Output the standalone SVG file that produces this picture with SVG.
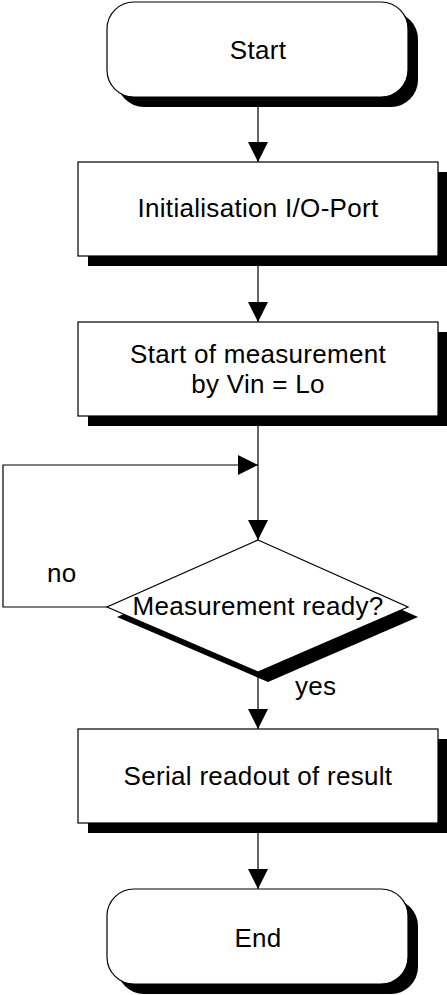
<svg xmlns="http://www.w3.org/2000/svg" width="447" height="995" viewBox="0 0 447 995">
<defs>
<style>
.sh{fill:#000;stroke:none}
.nd{fill:#fff;stroke:#000;stroke-width:1.2}
.t{font-family:"Liberation Sans",Arial,sans-serif;font-size:26px;letter-spacing:0.3px;fill:#000}
.m{text-anchor:middle}
.c{fill:none;stroke:#000;stroke-width:1.2}
</style>
<marker id="ah" markerUnits="userSpaceOnUse" markerWidth="20" markerHeight="20" viewBox="0 0 20 20" refX="20" refY="10" orient="auto">
<path d="M0,0 L20,10 L0,20 Z" fill="#000"/>
</marker>
</defs>
<rect width="447" height="995" fill="#fff"/>
<g id="connectors">
<line class="c" x1="258" y1="97" x2="258" y2="162" marker-end="url(#ah)"/>
<line class="c" x1="258" y1="256" x2="258" y2="322" marker-end="url(#ah)"/>
<line class="c" x1="258" y1="416" x2="258" y2="540" marker-end="url(#ah)"/>
<polyline class="c" points="107,607 3,607 3,465 258,465" marker-end="url(#ah)"/>
<line class="c" x1="258" y1="672" x2="258" y2="729" marker-end="url(#ah)"/>
<line class="c" x1="258" y1="823" x2="258" y2="889" marker-end="url(#ah)"/>
<text class="t" x="47" y="582">no</text>
<text class="t" x="295" y="695">yes</text>
</g>
<g id="start">
<rect class="sh" x="117" y="12" width="301" height="95" rx="27"/>
<rect class="nd" x="107" y="2" width="301" height="95" rx="27"/>
<text class="t m" x="258" y="59">Start</text>
</g>
<g id="init">
<rect class="sh" x="88" y="172" width="360" height="94"/>
<rect class="nd" x="78" y="162" width="360" height="94"/>
<text class="t m" x="258" y="217">Initialisation I/O-Port</text>
</g>
<g id="startmeas">
<rect class="sh" x="88" y="332" width="360" height="94"/>
<rect class="nd" x="78" y="322" width="360" height="94"/>
<text class="t m" x="258" y="363">Start of measurement</text>
<text class="t m" x="258" y="393">by Vin = Lo</text>
</g>
<g id="ready">
<polygon class="sh" points="268,550 418,617 268,682 117,617"/>
<polygon class="nd" points="258,540 408,607 258,672 107,607"/>
<text class="t m" x="258" y="615">Measurement ready?</text>
</g>
<g id="serial">
<rect class="sh" x="88" y="739" width="360" height="94"/>
<rect class="nd" x="78" y="729" width="360" height="94"/>
<text class="t m" x="258" y="785">Serial readout of result</text>
</g>
<g id="end">
<rect class="sh" x="117" y="899" width="301" height="95" rx="27"/>
<rect class="nd" x="107" y="889" width="301" height="95" rx="27"/>
<text class="t m" x="258" y="947">End</text>
</g>
</svg>
